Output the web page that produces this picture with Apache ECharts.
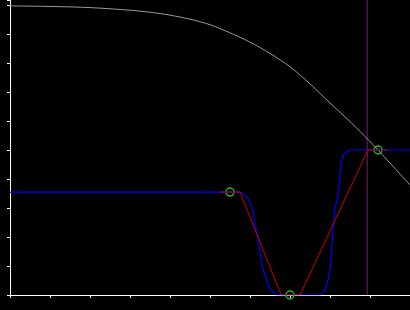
<!DOCTYPE html>
<html>
<head>
<meta charset="utf-8">
<script src="https://cdn.jsdelivr.net/npm/echarts@6/dist/echarts.min.js"></script>
<style>html,body{margin:0;padding:0;background:#000;}#c{width:410px;height:310px;}</style>
</head>
<body>
<div id="c"></div>
<script>
// Gray descending curve
const grayX = [-0.25, 0, 1, 2, 3, 3.5, 4, 4.5, 5, 5.5, 6, 6.5, 7, 7.5, 8, 8.5, 9, 9.5, 10];
const grayY = [9.99, 9.97, 9.95, 9.91, 9.82, 9.75, 9.65, 9.51, 9.32, 9.04, 8.72, 8.33, 7.87, 7.28, 6.62, 5.98, 5.29, 4.55, 3.79];
// Blue smooth profile
const blueX = [0, 5.75, 5.79, 5.92, 6.0, 6.07, 6.11, 6.17, 6.25, 6.33, 6.42, 6.5, 6.63, 6.75, 7.75, 7.88, 8.0, 8.04, 8.08, 8.13, 8.17, 8.21, 8.27, 8.33, 8.46, 8.5, 10];
const blueY = [3.55, 3.55, 3.51, 3.39, 3.17, 2.93, 2.59, 2.14, 1.45, 0.86, 0.52, 0.23, 0.03, 0, 0, 0.21, 0.86, 1.55, 2.24, 3.04, 3.2, 3.62, 4.42, 4.83, 4.98, 5.0, 5.0];
// Red piecewise linear profile
const redX = [5.25, 5.75, 6.78, 7.25, 8.95, 9.43];
const redY = [3.55, 3.55, 0, 0, 5, 5];
// Green markers
const markX = [5.5, 7.0, 9.2];
const markY = [3.55, 0, 5];
// Vertical purple line
const vlineX = 8.93;

const zip = (a, b) => a.map((v, i) => [v, b[i]]);
const yMax = 10.172;

const chart = echarts.init(document.getElementById('c'), null, {renderer: 'canvas'});
chart.setOption({
  backgroundColor: '#000',
  animation: false,
  grid: {left: 10, right: 0, top: 0, bottom: 15},
  xAxis: {
    type: 'value', min: 0, max: 10, interval: 1,
    axisLine: {show: true, onZero: false, lineStyle: {color: '#fff', width: 1}},
    axisTick: {show: true, inside: false, length: 3, lineStyle: {color: '#fff'}},
    axisLabel: {show: false},
    splitLine: {show: false}
  },
  yAxis: {
    type: 'value', min: 0, max: yMax, interval: 1,
    axisLine: {show: true, onZero: false, lineStyle: {color: '#fff', width: 1}},
    axisTick: {show: true, inside: false, length: 3, lineStyle: {color: '#fff'}},
    axisLabel: {show: false},
    splitLine: {show: false}
  },
  series: [
    {type: 'line', data: [[vlineX, 0], [vlineX, yMax]], symbol: 'none', clip: false,
     lineStyle: {color: '#7a1a6e', width: 1}},
    {type: 'line', data: zip(grayX, grayY), symbol: 'none', smooth: 0.3, clip: false,
     lineStyle: {color: '#999999', width: 1}},
    {type: 'line', data: zip(blueX, blueY), symbol: 'none', smooth: 0.2,
     lineStyle: {color: '#0000ff', width: 1.2}},
    {type: 'line', data: zip(redX, redY), symbol: 'none',
     lineStyle: {color: '#cc0000', width: 1}},
    {type: 'scatter', data: zip(markX, markY), symbol: 'circle', symbolSize: 8, clip: false,
     itemStyle: {color: 'transparent', borderColor: '#22ee22', borderWidth: 1.5}}
  ]
});
</script>
</body>
</html>
